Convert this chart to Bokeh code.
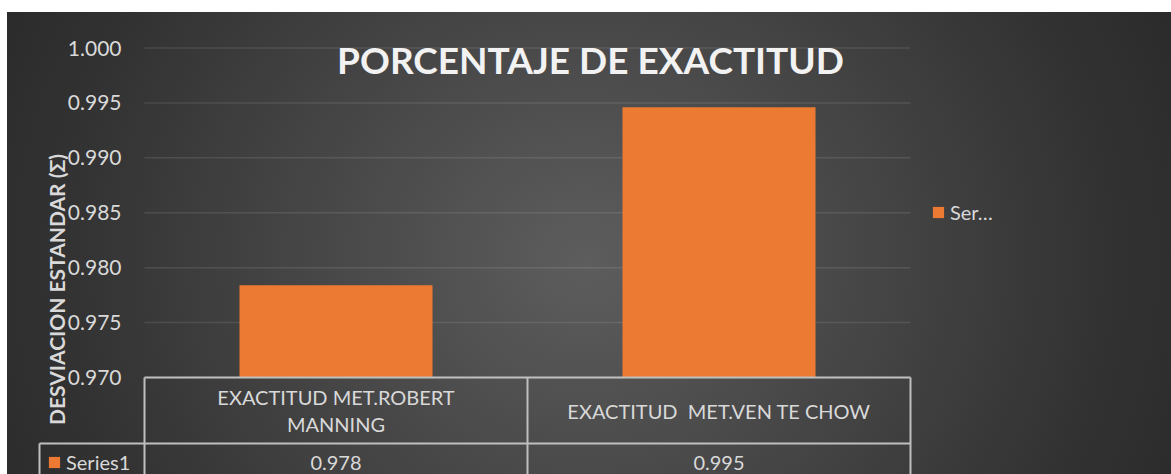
import math
from bokeh.plotting import figure
from bokeh.models import (ColumnDataSource, FixedTicker, Label, Legend, LegendItem,
                          Range1d, FactorRange, NumeralTickFormatter)
from bokeh.core.properties import value
from bokeh.embed import file_html
from bokeh.resources import INLINE

# ---------------- data ----------------
title_text = "PORCENTAJE DE EXACTITUD"
y_title = "DESVIACION ESTANDAR (\u03a3)"
categories = ["EXACTITUD MET.ROBERT MANNING", "EXACTITUD  MET.VEN TE CHOW"]
category_labels = ["EXACTITUD MET.ROBERT\nMANNING", "EXACTITUD\u00a0 MET.VEN TE CHOW"]
series_name = "Series1"
values = [0.9784, 0.9946]
y_ticks = [0.970, 0.975, 0.980, 0.985, 0.990, 0.995, 1.000]

# ---------------- layout ----------------
W, H = 1171, 474
FRAME_L = 30             # frame left (px)
CAT_L, CAT_R = 144, 910  # category band (px)
PX_CAT = (CAT_R - CAT_L) / len(categories)
PAD = (CAT_L - FRAME_L) / PX_CAT
FRAME_R = CAT_R + (CAT_L - FRAME_L)
PX_PER_UNIT = (377 - 47.5) / (y_ticks[-1] - y_ticks[0])


def yv(py):
    """pixel row -> value on the y scale"""
    return y_ticks[0] + (377 - py) / PX_PER_UNIT


def xoff(px):
    """pixel column -> categorical coordinate (offset from first factor)"""
    return (categories[0], (px - CAT_L) / PX_CAT - 0.5)


FONT = "Lato"
TXT = "#d9d9d9"
LINE = "#bfbfbf"
BAR = "#ec7a33"

p = figure(width=W, height=H,
           x_range=FactorRange(*categories, range_padding=PAD, range_padding_units="absolute"),
           y_range=Range1d(yv(H), yv(0)), output_backend="svg",
           toolbar_location=None, x_axis_location=None, title=None,
           min_border_left=FRAME_L, min_border_right=W - FRAME_R,
           min_border_top=0, min_border_bottom=0)
p.background_fill_alpha = 0
p.border_fill_alpha = 0
p.outline_line_color = None
p.styles = {"background": "linear-gradient(#ffffff, #ffffff) 0 0 / 100% 12px no-repeat, "
                          "linear-gradient(#ffffff, #ffffff) 0 0 / 7px 100% no-repeat, "
                          "radial-gradient(ellipse 62% 140% at 50% 55%, #5d5d5d 0%, #323232 72%, #262626 100%)"}

# y axis: labels pushed back over the frame so they sit left of the category band
ax = p.yaxis[0]
ax.ticker = FixedTicker(ticks=y_ticks)
ax.formatter = NumeralTickFormatter(format="0.000")
ax.axis_line_color = None
ax.major_tick_line_color = None
ax.minor_tick_line_color = None
ax.major_label_text_font = FONT
ax.major_label_text_font_size = "21px"
ax.major_label_text_color = TXT
ax.major_label_standoff = -(127 - FRAME_L)

p.ygrid.visible = False
p.xgrid.visible = False

# gridlines across the category band only
n = len(y_ticks)
p.segment(x0=[(categories[0], -0.5)] * n, x1=[(categories[-1], 0.5)] * n,
          y0=y_ticks, y1=y_ticks, line_color="#ffffff", line_alpha=0.1, line_width=1.5)

src = ColumnDataSource(dict(cat=categories, val=values, label=category_labels,
                            txt=[f"{v:.3f}" for v in values]))

bars = p.vbar(x="cat", top="val", bottom=y_ticks[0], width=0.504, source=src,
              fill_color=BAR, line_color=None)

# data table below the plot
p.segment(x0=[(categories[0], -0.5), xoff(39)], x1=[(categories[-1], 0.5)] * 2,
          y0=[y_ticks[0], yv(443)], y1=[y_ticks[0], yv(443)],
          line_color=LINE, line_width=2)
vx = [xoff(39), (categories[0], -0.5), (categories[0], 0.5), (categories[-1], 0.5)]
p.segment(x0=vx, x1=vx, y0=[yv(443), y_ticks[0], y_ticks[0], y_ticks[0]],
          y1=[yv(H + 5)] * 4, line_color=LINE, line_width=2)

p.text(x="cat", y=yv(410), text="label", source=src, text_align="center",
       text_baseline="middle", text_font=value(FONT), text_font_size="20px",
       text_color=TXT, text_line_height=1.15)
p.text(x="cat", y=yv(462), text="txt", source=src, text_align="center",
       text_baseline="middle", text_font=value(FONT), text_font_size="20px",
       text_color=TXT)

# title and axis title
p.add_layout(Label(x=590 - FRAME_L, x_units="screen", y=yv(59), text=title_text,
                   text_align="center", text_baseline="middle", text_font=FONT,
                   text_font_style="bold", text_font_size="37px", text_color="#f2f2f2"))
p.add_layout(Label(x=56 - FRAME_L, x_units="screen", y=yv(289), text=y_title, angle=math.pi / 2,
                   text_align="center", text_baseline="middle", text_font=FONT,
                   text_font_style="bold", text_font_size="21px", text_color=TXT))

# legends
common = dict(padding=0, margin=0, spacing=0, glyph_width=14, glyph_height=14,
              label_standoff=5, border_line_color=None, background_fill_alpha=0,
              label_text_font=FONT, label_text_font_size="20px", label_text_color=TXT)
leg_a = Legend(items=[LegendItem(label=value(series_name[:3] + "\u2026"), renderers=[bars])],
               location=(931 - FRAME_L, H - 224), **common)
leg_b = Legend(items=[LegendItem(label=value(series_name), renderers=[bars])],
               location=(47 - FRAME_L, 0), **common)
p.add_layout(leg_a)
p.add_layout(leg_b)

open("out.html", "w").write(file_html(p, INLINE))
